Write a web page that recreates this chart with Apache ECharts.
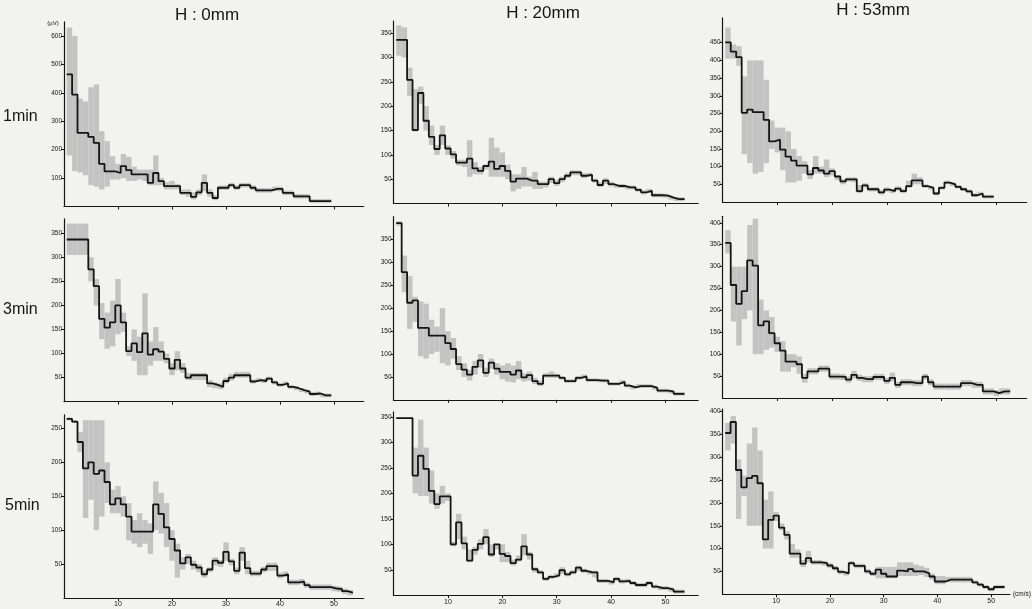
<!DOCTYPE html>
<html>
<head>
<meta charset="utf-8">
<script src="https://cdn.jsdelivr.net/npm/echarts@6/dist/echarts.min.js"></script>
<style>
  html, body { margin: 0; padding: 0; background: #f2f2f0; }
  #chart { width: 1032px; height: 609px; }
</style>
</head>
<body>
<div id="chart"></div>
<script>
// ---------- labels ----------
const colTitles = ['H : 0mm', 'H : 20mm', 'H : 53mm'];
const rowLabels = ['1min', '3min', '5min'];
const xTicks = [10, 20, 30, 40, 50];
const yUnit = '(\u00b5V)';
const xUnit = '(cm/s)';

// ---------- y tick labels per panel ----------
const yTicks1 = [100, 200, 300, 400, 500, 600];
const yTicks2 = [50, 100, 150, 200, 250, 300, 350];
const yTicks3 = [50, 100, 150, 200, 250, 300, 350, 400, 450];
const yTicks4 = [50, 100, 150, 200, 250, 300, 350];
const yTicks5 = [50, 100, 150, 200, 250, 300, 350];
const yTicks6 = [50, 100, 150, 200, 250, 300, 350, 400];
const yTicks7 = [50, 100, 150, 200, 250];
const yTicks8 = [50, 100, 150, 200, 250, 300, 350];
const yTicks9 = [50, 100, 150, 200, 250, 300, 350, 400];

// ---------- data: bin k = 1..N (centered on k, width 1) ----------
// 1min, H:0mm
const p1Mean = [465,394,259,259,245,224,150,124,124,118, 142,128,113,113,113,83,118,89,72,72, 72,48,48,34,50,83,48,30,66,66, 75,66,75,75,66,57,57,57,62,62, 48,48,36,36,36,19,19,19,19];
const p1High = [630,600,380,370,420,430,265,230,177,150, 185,175,140,130,130,130,180,100,85,90, 80,60,60,50,60,113,60,40,74,74, 83,74,83,83,74,65,65,65,70,70, 56,56,44,44,44,26,26,26,26];
const p1Low  = [180,125,120,110,75,70,60,70,95,95, 100,90,90,95,90,75,75,75,60,60, 60,40,35,25,40,54,35,22,58,58, 67,58,67,67,58,49,49,49,54,54, 40,40,28,28,28,13,13,13,13];
// 1min, H:20mm
const p2Mean = [336,336,254,151,227,170,137,112,140,113, 101,84,84,92,72,67,77,86,71,77, 67,45,51,51,47,47,40,40,50,42, 50,57,64,64,57,59,47,38,47,40, 36,36,33,33,28,23,26,17,17,16, 12,9,9];
const p2High = [366,362,279,235,240,200,160,120,160,120, 108,90,90,130,85,75,80,135,115,105, 80,60,60,75,55,65,45,45,55,48, 55,62,68,68,62,63,51,44,52,45, 40,40,37,37,32,27,30,21,21,20, 16,13,13];
const p2Low  = [304,300,221,148,205,150,120,100,120,100, 92,78,75,55,60,60,70,55,55,55, 50,25,30,35,35,30,30,33,42,36, 44,52,58,58,52,55,43,34,40,35, 32,32,29,29,24,19,22,13,13,12, 8,5,5];
// 1min, H:53mm
const p3Mean = [451,425,409,252,261,254,254,232,171,176, 148,128,117,103,103,78,96,89,80,87, 72,58,64,64,31,47,36,36,27,35, 31,38,31,45,61,61,45,40,24,40, 55,50,43,36,30,19,24,15,15];
const p3High = [493,445,440,355,400,400,400,345,230,210, 210,200,150,130,115,90,130,100,120,95, 75,65,70,70,48,53,42,42,33,41, 37,44,37,60,80,70,50,45,29,45, 60,55,48,41,35,24,29,20,20];
const p3Low  = [405,405,385,135,110,80,85,110,150,140, 90,55,55,60,80,65,80,80,70,75, 62,50,58,56,25,41,30,30,21,29, 25,32,25,40,50,50,40,35,19,35, 50,45,38,31,25,14,19,10,10];
// 3min, H:0mm
const p4Mean = [337,337,337,337,275,240,172,154,165,200, 165,105,121,103,142,98,109,104,89,69, 87,69,50,55,55,55,38,35,31,43, 50,55,55,55,42,45,43,48,40,35, 38,31,28,24,21,16,17,13,13];
const p4High = [370,370,370,370,300,255,205,185,210,255, 185,115,150,135,225,125,155,125,100,80, 105,80,60,60,60,60,45,40,38,50, 58,62,62,62,46,49,47,52,44,39, 42,35,32,28,25,20,21,17,17];
const p4Low  = [305,305,305,305,250,200,130,110,115,140, 145,95,85,55,55,75,85,85,80,55, 65,60,45,45,45,45,30,28,26,38, 44,50,50,50,38,41,39,44,36,31, 34,27,24,20,17,12,13,9,9];
// 3min, H:20mm
const p5Mean = [386,279,212,217,157,157,140,140,140,124, 111,78,66,55,72,86,59,81,68,61, 61,55,64,49,54,41,35,53,53,53, 48,41,41,48,51,43,43,42,42,35, 35,39,31,27,30,30,30,26,20,20, 18,13,13];
const p5High = [390,315,270,225,215,210,175,160,200,150, 135,95,80,65,85,100,70,90,80,75, 80,75,85,58,62,48,42,58,62,57, 52,45,45,52,55,47,47,46,46,39, 39,43,35,31,34,34,34,30,24,24, 22,17,17];
const p5Low  = [380,235,155,170,95,90,100,105,80,75, 90,65,50,42,55,70,50,68,55,45, 40,38,45,40,42,34,30,48,48,48, 44,37,37,44,47,39,39,38,38,31, 31,35,27,23,26,26,26,22,16,16, 14,9,9];
// 3min, H:53mm
const p6Mean = [354,258,215,244,314,302,166,175,148,125, 108,83,83,77,46,61,61,67,67,49, 49,48,42,53,46,43,43,48,48,39, 46,30,36,36,34,34,49,36,26,26, 26,26,26,34,34,30,30,15,15,11, 15,15];
const p6High = [383,300,300,300,395,410,225,200,185,140, 130,100,100,95,55,68,68,74,74,56, 56,55,49,62,53,50,50,55,55,46, 58,37,43,43,41,41,55,43,33,33, 33,33,33,41,41,37,37,22,22,18, 22,22];
const p6Low  = [330,175,120,180,200,100,100,110,115,105, 60,60,70,55,35,54,54,60,60,42, 42,41,35,45,39,36,36,41,41,32, 38,23,29,29,27,27,42,29,19,19, 19,19,19,27,27,23,23,8,8,4, 8,8];
// 5min, H:0mm
const p7Mean = [264,260,230,191,200,183,188,171,138,147, 138,120,98,98,98,98,138,124,104,87, 70,51,60,49,45,35,42,55,52,68, 54,40,67,44,36,36,42,47,47,33, 35,23,23,24,19,16,16,16,16,14, 13,10,8];
const p7High = [266,262,245,262,262,262,262,200,160,165, 150,140,115,125,115,110,172,155,140,100, 80,60,65,55,50,40,45,60,56,82, 58,45,75,55,40,40,46,52,52,37, 39,27,27,28,23,20,20,20,20,18, 17,14,12];
const p7Low  = [262,258,215,118,145,100,120,140,125,125, 120,85,80,75,80,65,100,95,75,55, 30,42,50,42,38,30,38,48,46,55, 48,35,55,35,32,32,38,40,40,29, 31,19,19,20,15,12,12,12,12,10, 9,6,4];
// 5min, H:20mm
const p8Mean = [348,348,348,235,274,248,205,179,194,194, 100,143,102,68,89,101,114,80,100,81, 77,63,70,96,80,51,45,32,36,39, 49,41,45,54,48,45,45,28,28,25, 32,27,28,24,20,20,24,17,14,14, 11,7,7];
const p8High = [348,348,348,290,345,290,245,200,215,200, 105,160,115,90,95,110,130,100,100,100, 85,70,78,120,85,55,49,36,40,43, 55,45,49,58,52,49,48,32,32,29, 36,31,32,28,24,24,28,21,18,18, 15,11,11];
const p8Low  = [348,348,348,200,195,195,180,170,180,185, 96,110,90,65,80,90,100,75,90,65, 65,58,66,78,70,45,41,28,32,35, 42,37,41,48,44,41,35,24,24,21, 28,23,24,20,16,16,20,13,10,10, 7,3,3];
// 5min, H:53mm
const p9Mean = [353,377,272,234,254,259,243,120,163,172, 146,130,89,89,67,79,70,70,68,63, 57,49,46,68,62,62,50,45,54,45, 39,39,52,50,55,50,50,46,39,28, 28,32,32,32,32,32,26,21,16,11, 16,16];
const p9High = [375,390,295,260,330,365,315,207,225,180, 155,138,110,98,75,95,75,75,73,68, 62,54,51,73,67,67,55,50,60,60, 60,60,70,70,70,65,62,58,45,40, 40,38,38,38,38,38,30,25,20,15, 20,20];
const p9Low  = [315,330,165,215,150,150,150,100,100,160, 140,120,80,80,60,70,65,65,63,58, 52,44,41,63,57,57,45,40,35,35, 35,35,40,40,40,40,42,38,32,22, 22,26,26,26,26,26,22,17,12,7, 12,12];

// ---------- panel table (data refs + layout) ----------
const panels = [
  {mean:p1Mean, high:p1High, low:p1Low, ticks:yTicks1, ymax:650, row:0, col:0, left:64,    xs:5.40, xmax:55.5, bottom:206.5, ys:0.2840},
  {mean:p2Mean, high:p2High, low:p2Low, ticks:yTicks2, ymax:375, row:0, col:1, left:393.5, xs:5.44, xmax:56,   bottom:203.5, ys:0.4867},
  {mean:p3Mean, high:p3High, low:p3Low, ticks:yTicks3, ymax:520, row:0, col:2, left:722.5, xs:5.48, xmax:55.5, bottom:202,   ys:0.3540},
  {mean:p4Mean, high:p4High, low:p4Low, ticks:yTicks4, ymax:380, row:1, col:0, left:64,    xs:5.40, xmax:55.5, bottom:401.7, ys:0.4813},
  {mean:p5Mean, high:p5High, low:p5Low, ticks:yTicks5, ymax:400, row:1, col:1, left:393.5, xs:5.44, xmax:56,   bottom:399.8, ys:0.4578},
  {mean:p6Mean, high:p6High, low:p6Low, ticks:yTicks6, ymax:415, row:1, col:2, left:722.5, xs:5.48, xmax:55.5, bottom:398,   ys:0.4380},
  {mean:p7Mean, high:p7High, low:p7Low, ticks:yTicks7, ymax:270, row:2, col:0, left:64,    xs:5.40, xmax:55.5, bottom:598,   ys:0.6783},
  {mean:p8Mean, high:p8High, low:p8Low, ticks:yTicks8, ymax:360, row:2, col:1, left:393.5, xs:5.44, xmax:56,   bottom:595.2, ys:0.5090},
  {mean:p9Mean, high:p9High, low:p9Low, ticks:yTicks9, ymax:405, row:2, col:2, left:722.5, xs:5.48, xmax:53.5, bottom:594.3, ys:0.4570}
];

const FONT = '"Liberation Sans", Arial, sans-serif';
const INK = '#151515';
const BAND = '#c3c3c3';

const grid = [], xAxis = [], yAxis = [], series = [];
panels.forEach((p, i) => {
  const h = p.ymax * p.ys;
  grid.push({left: p.left, top: p.bottom - h, width: p.xmax * p.xs, height: h, containLabel: false});
  const isBottom = p.row === 2;
  xAxis.push({
    type: 'value', gridIndex: i, min: 0, max: p.xmax,
    axisLine: {show: true, lineStyle: {color: INK, width: 1.2}},
    axisTick: {show: true, length: 3, customValues: xTicks, lineStyle: {color: INK}},
    axisLabel: {show: isBottom, customValues: xTicks, fontSize: 7, color: INK, fontFamily: FONT, margin: 3},
    splitLine: {show: false},
    name: (i === 8) ? xUnit : '', nameLocation: 'end', nameGap: 3,
    nameTextStyle: {fontSize: 6.5, color: INK, fontFamily: FONT, verticalAlign: 'middle', padding: [3, 0, 0, 0]}
  });
  yAxis.push({
    type: 'value', gridIndex: i, min: 0, max: p.ymax,
    axisLine: {show: true, lineStyle: {color: INK, width: 1.2}},
    axisTick: {show: true, length: 3, customValues: p.ticks, lineStyle: {color: INK}},
    axisLabel: {show: true, customValues: p.ticks, fontSize: 6.5, color: INK, fontFamily: FONT, margin: 2},
    splitLine: {show: false}
  });
  // error band (shaded range per bin)
  series.push({
    type: 'custom', xAxisIndex: i, yAxisIndex: i, silent: true, z: 1,
    data: p.mean.map((v, j) => [j + 1, p.low[j], p.high[j]]),
    encode: {x: 0, y: [1, 2]},
    renderItem: (params, api) => {
      const k = api.value(0);
      const a = api.coord([k - 0.5, api.value(2)]);
      const b = api.coord([k + 0.5, api.value(1)]);
      return {type: 'rect', shape: {x: a[0], y: a[1], width: b[0] - a[0], height: b[1] - a[1]},
              style: {fill: BAND}};
    }
  });
  // step line
  const pts = p.mean.map((v, j) => [j + 0.5, v]);
  pts.push([p.mean.length + 0.5, p.mean[p.mean.length - 1]]);
  series.push({
    type: 'line', xAxisIndex: i, yAxisIndex: i, step: 'end', data: pts,
    symbol: 'none', silent: true, z: 3,
    lineStyle: {color: INK, width: 1.8}
  });
});

const graphic = [];
const titlePos = [[207, 15], [543, 13], [873, 10]];
colTitles.forEach((t, c) => graphic.push({type: 'text', x: titlePos[c][0], y: titlePos[c][1],
  style: {text: t, font: '17px ' + FONT, fill: INK, textAlign: 'center', textVerticalAlign: 'middle'}}));
const rowPos = [[3, 117], [3, 310], [5, 506]];
rowLabels.forEach((t, r) => graphic.push({type: 'text', x: rowPos[r][0], y: rowPos[r][1],
  style: {text: t, font: '16px ' + FONT, fill: INK, textAlign: 'left', textVerticalAlign: 'middle'}}));
graphic.push({type: 'text', x: 53, y: 23,
  style: {text: yUnit, font: '6px ' + FONT, fill: INK, textAlign: 'center', textVerticalAlign: 'middle'}});

const chart = echarts.init(document.getElementById('chart'), null, {renderer: 'canvas'});
chart.setOption({
  backgroundColor: '#f2f2f0',
  animation: false,
  grid, xAxis, yAxis, series, graphic
});
</script>
</body>
</html>
